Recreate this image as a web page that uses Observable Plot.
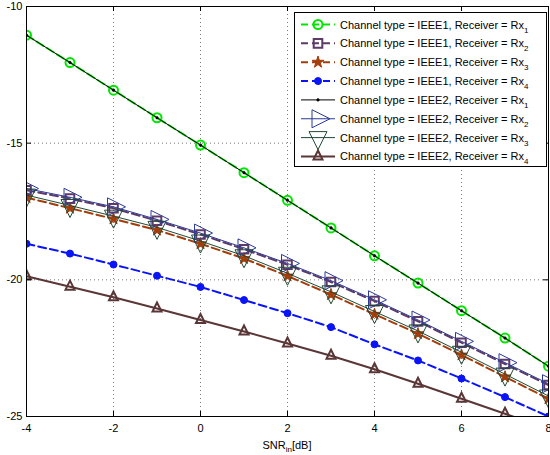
<!DOCTYPE html>
<html><head><meta charset="utf-8">
<script src="https://cdn.jsdelivr.net/npm/d3@7"></script>
<script src="https://cdn.jsdelivr.net/npm/@observablehq/plot@0.6"></script>
<style>body{margin:0;background:#fff} #chart{width:550px;height:455px}</style>
</head><body><div id="chart"></div>
<script>
// ---- data ----
const snr = [-4, -3, -2, -1, 0, 1, 2, 3, 4, 5, 6, 7, 8];
const xTicks = [-4, -2, 0, 2, 4, 6, 8];
const yTicks = [-25, -20, -15, -10];
const ieee1Rx1 = [-11.05, -12.05, -13.06, -14.07, -15.07, -16.08, -17.09, -18.1, -19.12, -20.12, -21.13, -22.13, -23.16];
const ieee1Rx2 = [-16.72, -17.03, -17.38, -17.84, -18.34, -18.88, -19.45, -20.08, -20.78, -21.52, -22.3, -23.08, -23.85];
const ieee1Rx3 = [-16.99, -17.38, -17.77, -18.18, -18.68, -19.22, -19.86, -20.54, -21.26, -21.97, -22.75, -23.55, -24.35];
const ieee1Rx4 = [-18.68, -19.04, -19.44, -19.85, -20.26, -20.74, -21.22, -21.73, -22.36, -22.95, -23.61, -24.29, -25.0];
const ieee2Rx1 = [-11.05, -12.05, -13.06, -14.07, -15.07, -16.08, -17.09, -18.1, -19.12, -20.12, -21.13, -22.13, -23.16];
const ieee2Rx2 = [-16.66, -16.98, -17.33, -17.79, -18.29, -18.83, -19.4, -20.03, -20.73, -21.47, -22.25, -23.03, -23.8];
const ieee2Rx3 = [-16.9, -17.28, -17.67, -18.08, -18.58, -19.12, -19.76, -20.44, -21.16, -21.87, -22.65, -23.45, -24.25];
const ieee2Rx4 = [-19.87, -20.25, -20.64, -21.05, -21.47, -21.89, -22.33, -22.78, -23.27, -23.8, -24.35, -24.9, -25.45];
const channelTypes = ["IEEE1", "IEEE1", "IEEE1", "IEEE1", "IEEE2", "IEEE2", "IEEE2", "IEEE2"];
const receivers = ["1", "2", "3", "4", "1", "2", "3", "4"];
const xLabelMain = "SNR", xLabelSub = "in", xLabelUnit = "[dB]";

// ---- custom marker shapes (centroid-centred triangles like MATLAB) ----
function rad(size) { return Math.sqrt(size / Math.PI); }
const triRight = {draw(c, s) { const r = rad(s); c.moveTo(4 * r / 3, 0); c.lineTo(-2 * r / 3, -r); c.lineTo(-2 * r / 3, r); c.closePath(); }};
const triDown = {draw(c, s) { const r = rad(s); c.moveTo(0, 4 * r / 3); c.lineTo(-r, -2 * r / 3); c.lineTo(r, -2 * r / 3); c.closePath(); }};
const triUp = {draw(c, s) { const r = rad(s); c.moveTo(0, -4 * r / 3); c.lineTo(r, 2 * r / 3); c.lineTo(-r, 2 * r / 3); c.closePath(); }};
const sqr = {draw(c, s) { const r = rad(s); c.rect(-r, -r, 2 * r, 2 * r); }};
const circ = {draw(c, s) { const r = rad(s); c.moveTo(r, 0); c.arc(0, 0, r, 0, 2 * Math.PI); c.closePath(); }};

// ---- styles ----
const styles = [
  {values: ieee1Rx1, stroke: "#00e600", width: 2, dash: "8,4", sym: circ, r: 4.5, fill: "none", mstroke: "#00e600", mwidth: 2},
  {values: ieee1Rx2, stroke: "#5e3a68", width: 2, dash: "8,4", sym: sqr, r: 4.3, fill: "none", mstroke: "#5e3a68", mwidth: 2},
  {values: ieee1Rx3, stroke: "#a33d0c", width: 2, dash: "8,4", sym: d3.symbolStar, r: 3.7, fill: "#a33d0c", mstroke: "#a33d0c", mwidth: 1},
  {values: ieee1Rx4, stroke: "#0a14f5", width: 2, dash: "8,4", sym: circ, r: 3.5, fill: "#0a14f5", mstroke: "#0a14f5", mwidth: 1},
  {values: ieee2Rx1, stroke: "#000000", width: 1, dash: null, sym: circ, r: 1.3, fill: "#000000", mstroke: "#000000", mwidth: 0.5},
  {values: ieee2Rx2, stroke: "#2b3a99", width: 1, dash: null, sym: triRight, r: 9, fill: "none", mstroke: "#2b3a99", mwidth: 1},
  {values: ieee2Rx3, stroke: "#1f4a33", width: 1, dash: null, sym: triDown, r: 9, fill: "none", mstroke: "#1f4a33", mwidth: 1},
  {values: ieee2Rx4, stroke: "#5a3636", width: 2, dash: null, sym: triUp, r: 4.5, fill: "none", mstroke: "#5a3636", mwidth: 2}
];

const W = 550, H = 455, mt = 6, mb = 39, ml = 26, mr = 2;
const innerH = H - mt - mb, innerW = W - ml - mr;

const seriesMarks = styles.flatMap(s => [
  Plot.line(snr, {x: d => d, y: (d, i) => s.values[i], stroke: s.stroke, strokeWidth: s.width, strokeDasharray: s.dash, clip: true}),
  Plot.dot(snr, {x: d => d, y: (d, i) => s.values[i], symbol: s.sym, r: s.r, fill: s.fill, stroke: s.mstroke, strokeWidth: s.mwidth, clip: true})
]);

const plot = Plot.plot({
  width: W, height: H,
  marginTop: mt, marginBottom: mb, marginLeft: ml, marginRight: mr,
  style: {fontFamily: "'Liberation Sans', Arial, sans-serif", fontSize: "11px", background: "white", color: "black"},
  x: {domain: [-4, 8]},
  y: {domain: [-25, -10]},
  marks: [
    Plot.gridX(xTicks, {stroke: "#7a7a7a", strokeOpacity: 1, strokeDasharray: "1,3"}),
    Plot.gridY(yTicks, {stroke: "#7a7a7a", strokeOpacity: 1, strokeDasharray: "1,3"}),
    ...seriesMarks,
    Plot.frame({stroke: "black"}),
    Plot.tickX(xTicks, {x: d => d, insetTop: innerH - 5, stroke: "black"}),
    Plot.tickX(xTicks, {x: d => d, insetBottom: innerH - 5, stroke: "black"}),
    Plot.tickY(yTicks, {y: d => d, insetRight: innerW - 5, stroke: "black"}),
    Plot.tickY(yTicks, {y: d => d, insetLeft: innerW - 5, stroke: "black"}),
    Plot.axisX(xTicks, {tickSize: 0, tickPadding: 8, tickFormat: d => String(d), label: null}),
    Plot.axisY(yTicks, {tickSize: 0, tickPadding: 4, tickFormat: d => String(d), label: null})
  ]
});
document.getElementById("chart").appendChild(plot);

// ---- x label with subscript ----
const svg = d3.select(plot);
const xs = plot.scale("x");
const xl = svg.append("text").attr("x", xs.apply(2)).attr("y", 449).attr("text-anchor", "middle")
  .attr("font-size", 11).attr("fill", "black");
xl.append("tspan").text(xLabelMain);
xl.append("tspan").attr("font-size", 8).attr("dy", 3).text(xLabelSub);
xl.append("tspan").attr("dy", -3).text(xLabelUnit);

// ---- legend ----
const lg = svg.append("g").attr("text-anchor", "start");
lg.append("rect").attr("x", 294.5).attr("y", 12.5).attr("width", 252).attr("height", 154)
  .attr("fill", "white").attr("stroke", "black").attr("stroke-width", 1);
styles.forEach((s, i) => {
  const cy = 24.5 + i * 18.85;
  lg.append("line").attr("x1", 301).attr("x2", 335).attr("y1", cy).attr("y2", cy)
    .attr("stroke", s.stroke).attr("stroke-width", s.width).attr("stroke-dasharray", s.dash ? "7,4" : null);
  lg.append("path").attr("transform", `translate(318,${cy})`)
    .attr("d", d3.symbol(s.sym, s.r * s.r * Math.PI)())
    .attr("fill", s.fill).attr("stroke", s.mstroke).attr("stroke-width", s.mwidth);
  const t = lg.append("text").attr("x", 340).attr("y", cy + 4).attr("font-size", 11)
    .attr("fill", "black").attr("text-anchor", "start");
  t.append("tspan").text(`Channel type = ${channelTypes[i]}, Receiver = Rx`);
  t.append("tspan").attr("font-size", 8).attr("dy", 4).text(receivers[i]);
});
</script></body></html>
